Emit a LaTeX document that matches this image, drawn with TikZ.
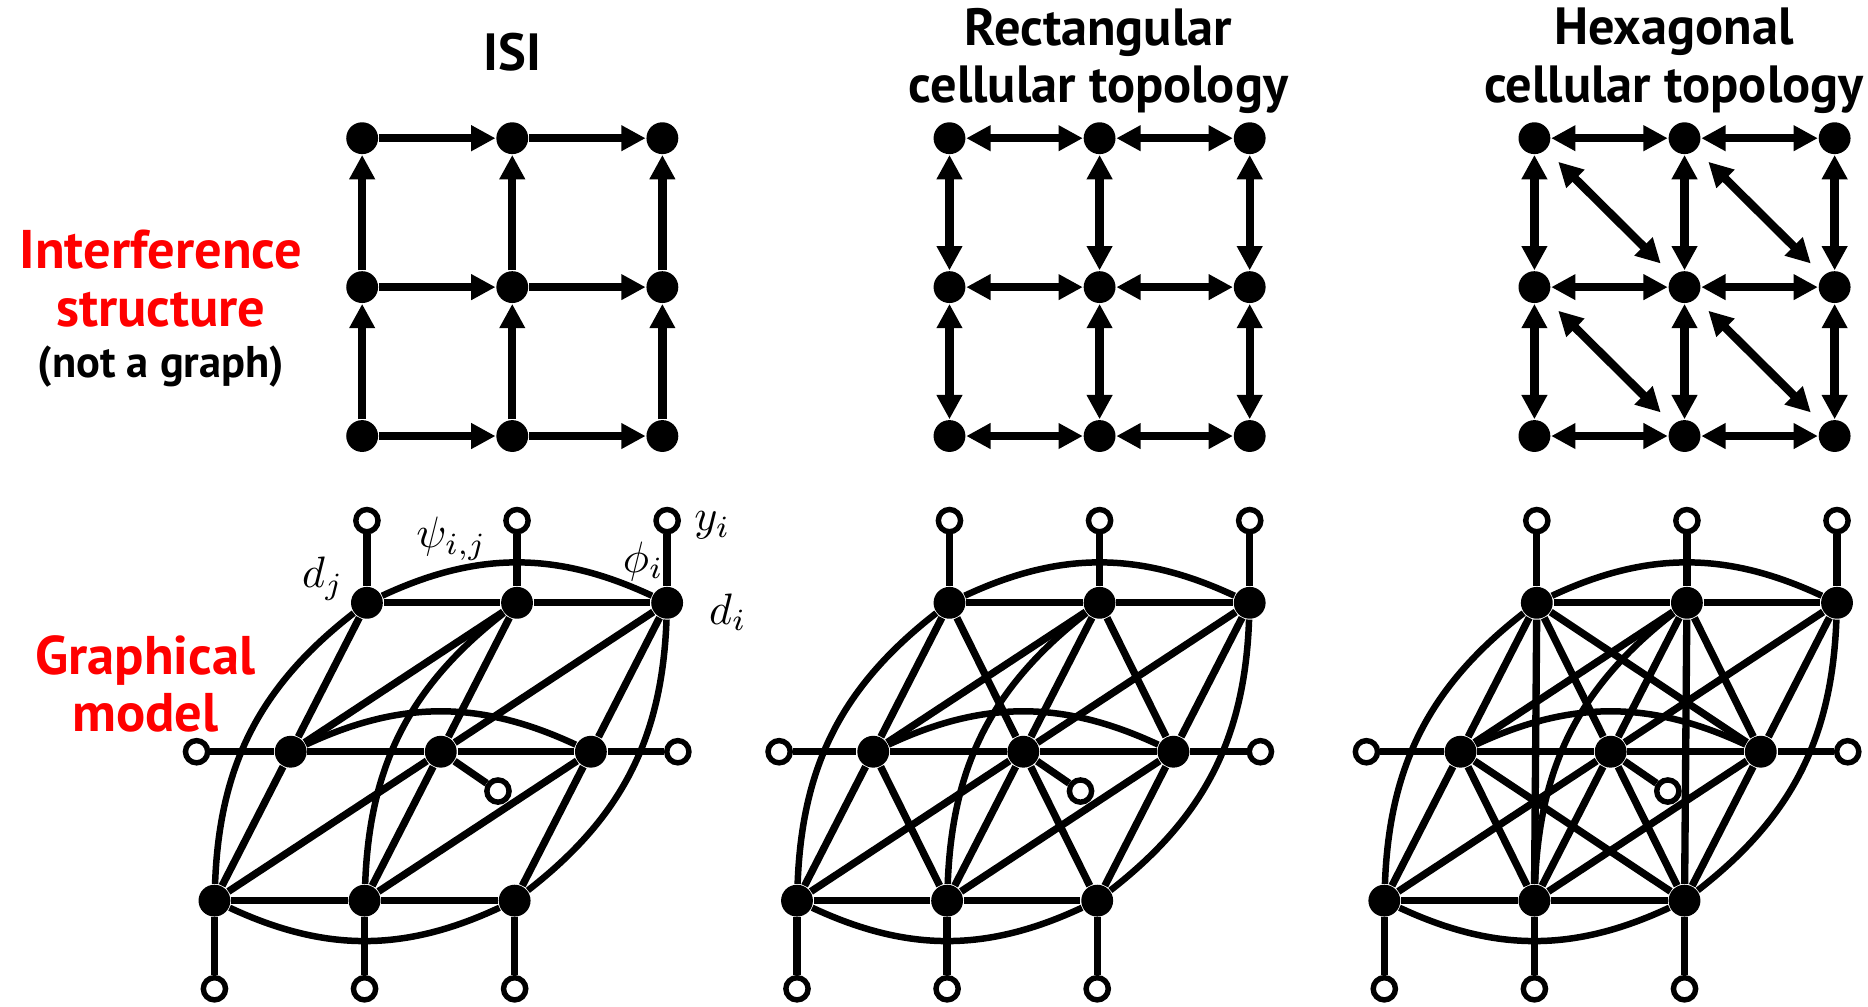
\documentclass[tikz,border=0pt]{standalone}
\usepackage{fontspec}
\setsansfont{PT Sans}
\usetikzlibrary{arrows.meta, positioning}

\begin{document}
\begin{tikzpicture}[
    x=0.01cm, y=0.01cm,
    >={Triangle[length=5.8pt, width=5.8pt]},
    dot/.style={circle, fill, inner sep=0pt, minimum size=7.6pt},
    obs/.style={circle, draw, fill=white, line width=1.3pt, inner sep=0pt, minimum size=5.3pt},
    arr/.style={line width=2pt},
    link/.style={line width=1.75pt},
    bow/.style={line width=1.55pt},
    head/.style={font=\sffamily\bfseries\fontsize{12.5}{13.7}\selectfont, align=center},
    side/.style={font=\sffamily\bfseries\fontsize{13}{13.7}\selectfont, align=center, text=red},
    var/.style={scale=1.05, transform shape}
  ]
    \useasboundingbox (0,0) rectangle (1568,-845);

    % titles and row labels
    \node[head] (isi) at (430,-44) {ISI};
    \node[head] (rect) at (922,-51) {Rectangular\\cellular topology};
    \node[head] (hex) at (1405,-51) {Hexagonal\\cellular topology};
    \node[side] (inter) at (135,-234) {Interference\\structure};
    \node[font=\sffamily\bfseries\fontsize{10.6}{12}\selectfont] (notgraph) at (135,-308) {(not a graph)};
    \node[side] (graphical) at (122,-574) {Graphical\\model};

    % interference structures
    \foreach \p/\x in {isi/304, rect/797, hex/1288}
      \foreach \r in {0,1,2}
        \foreach \c in {0,1,2}
          \node[dot] (\p-t\r\c) at (\x+126*\c, -116-125*\r) {};

    \foreach \r in {0,1,2}
      \foreach \c/\d in {0/1,1/2} {
        \draw[arr,->] (isi-t\r\c) -- (isi-t\r\d);
        \draw[arr,->] (isi-t\d\r) -- (isi-t\c\r);
      }
    \foreach \p in {rect,hex}
      \foreach \r in {0,1,2}
        \foreach \c/\d in {0/1,1/2} {
          \draw[arr,<->] (\p-t\r\c) -- (\p-t\r\d);
          \draw[arr,<->] (\p-t\c\r) -- (\p-t\d\r);
        }
    \foreach \r/\s in {0/1,1/2}
      \foreach \c/\d in {0/1,1/2}
        \draw[arr,<->,shorten <=4pt,shorten >=4pt] (hex-t\r\c) -- (hex-t\s\d);

    % graphical models
    \foreach \p/\x in {isi/308, rect/797, hex/1290} {
      \foreach \r in {0,1,2}
        \foreach \c in {0,1,2}
          \node[dot] (\p-d\r\c) at (\x+126*\c-64*\r, -506-125*\r) {};
      \foreach \c in {0,1,2} {
        \node[obs] (\p-yt\c) at (\x+126*\c, -437) {};
        \node[obs] (\p-yb\c) at (\x+126*\c-128, -830) {};
        \draw[link] (\p-yt\c) -- (\p-d0\c);
        \draw[link] (\p-yb\c) -- (\p-d2\c);
      }
      \node[obs] (\p-yl) at (\x-143, -631) {};
      \node[obs] (\p-yr) at (\x+261, -631) {};
      \node[obs] (\p-yc) at (\x+110, -664) {};
      \draw[link] (\p-yl) -- (\p-d10);
      \draw[link] (\p-yr) -- (\p-d12);
      \draw[link] (\p-yc) -- (\p-d11);

      \foreach \r in {0,1,2}
        \foreach \c/\d in {0/1,1/2} {
          \draw[link] (\p-d\r\c) -- (\p-d\r\d);
          \draw[link] (\p-d\c\r) -- (\p-d\d\r);
        }
      \foreach \a/\b in {01/10, 02/11, 11/20, 12/21}
        \draw[link] (\p-d\a) -- (\p-d\b);
      \draw[bow] (\p-d00) to[bend left=25] (\p-d02);
      \draw[bow] (\p-d10) to[bend left=25] (\p-d12);
      \draw[bow] (\p-d20) to[bend right=25] (\p-d22);
      \draw[bow] (\p-d20) to[bend left=25] (\p-d00);
      \draw[bow] (\p-d21) to[bend left=25] (\p-d01);
      \draw[bow] (\p-d22) to[bend right=25] (\p-d02);
    }
    \foreach \p in {rect,hex}
      \foreach \a/\b in {00/11, 01/12, 10/21, 11/22}
        \draw[link] (\p-d\a) -- (\p-d\b);
    \foreach \a/\b in {00/21, 01/22, 00/12, 10/22}
      \draw[link] (hex-d\a) -- (hex-d\b);

    % variable names
    \node[var] (dj) at (271,-486) {$d_j$};
    \node[var] (psi) at (379,-452) {$\psi_{i,j}$};
    \node[var] (phi) at (540,-471) {$\phi_i$};
    \node[var] (yi) at (598,-441) {$y_i$};
    \node[var] (di) at (611,-514) {$d_i$};
  \end{tikzpicture}
\end{document}
